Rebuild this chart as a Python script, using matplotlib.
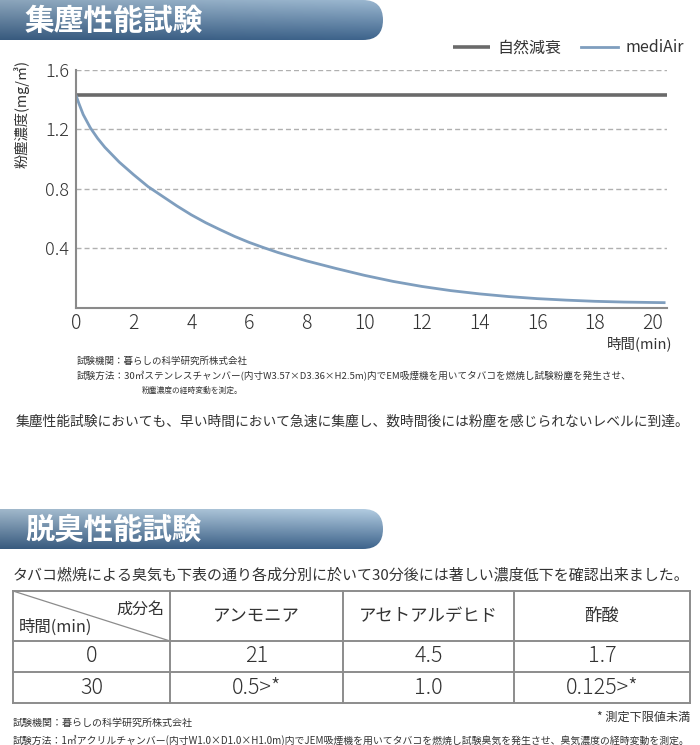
import numpy as np
import matplotlib
matplotlib.use('Agg')
import matplotlib.pyplot as plt
from matplotlib.patches import FancyBboxPatch

plt.rcParams['font.family'] = ['Noto Sans CJK JP', 'DejaVu Sans']

# ---------------- data ----------------
series_names = ['自然減衰', 'mediAir']
natural_t = [0, 20.5]
natural_v = [1.43, 1.43]
mediair_t = [0, 0.1, 0.25, 0.5, 0.75, 1, 1.5, 2, 2.5, 3, 3.5, 4, 4.5, 5, 5.5,
             6, 6.5, 7, 7.5, 8, 9, 10, 11, 12, 13, 14, 15, 16, 17, 18, 19,
             20, 20.4]
mediair_v = [1.43, 1.375, 1.30, 1.21, 1.14, 1.08, 0.98, 0.895, 0.815, 0.75,
             0.685, 0.625, 0.572, 0.525, 0.48, 0.44, 0.405, 0.372, 0.343,
             0.315, 0.265, 0.218, 0.177, 0.143, 0.115, 0.093, 0.075, 0.061,
             0.051, 0.043, 0.038, 0.035, 0.034]
x_ticks = [0, 2, 4, 6, 8, 10, 12, 14, 16, 18, 20]
y_ticks = [0.4, 0.8, 1.2, 1.6]
y_tick_labels = ['0.4', '0.8', '1.2', '1.6']

components = ['アンモニア', 'アセトアルデヒド', '酢酸']
times = ['0', '30']
odor_values = [['21', '4.5', '1.7'],
               ['0.5>*', '1.0', '0.125>*']]

# ---------------- figure ----------------
W, H = 700, 745
fig = plt.figure(figsize=(7, 7.45), dpi=100)
fig.patch.set_facecolor('white')
bg = fig.add_axes([0, 0, 1, 1])
bg.axis('off')
R = fig.canvas.get_renderer()
TXT = '#333333'


def fit(x, y, s, width, ha='left', va='center', size0=10, vertical=False, **kw):
    t = bg.text(x, y, s, fontsize=size0, ha=ha, va=va, **kw)
    bb = t.get_window_extent(R)
    w = bb.height if vertical else bb.width
    t.set_fontsize(size0 * width / w)
    return t


def fax(x0, y0, x1, y1):
    return [x0 / W, 1 - y1 / H, (x1 - x0) / W, (y1 - y0) / H]


top_c = np.array([0xb2, 0xcc, 0xe1]) / 255
bot_c = np.array([0x3e, 0x64, 0x8c]) / 255


def banner(y0, y1, x1, title, text_w, grad_top):
    f = np.linspace(0, 1, 80)[:, None, None]
    g = np.linspace(0, 1, 120)[None, :, None]
    grad = (top_c * (1 - f) + bot_c * f) * (0.9 + 0.1 * g)
    im = bg.imshow(np.clip(grad, 0, 1), extent=[0, x1, y1, grad_top],
                   aspect='auto', origin='upper', zorder=1,
                   interpolation='bilinear')
    h = y1 - y0
    clip = FancyBboxPatch((-h, y0), x1 + h, h,
                          boxstyle=f'round,pad=0,rounding_size={h / 2}',
                          transform=bg.transData, facecolor='none',
                          edgecolor='none')
    bg.add_patch(clip)
    im.set_clip_path(clip)
    fit(25, (y0 + y1) / 2 + 1, title, text_w, color='white',
        fontweight='bold', zorder=2)


banner(0, 40, 383, '集塵性能試験', 178, -10)
banner(509, 549, 383, '脱臭性能試験', 176, 509)

# ---------------- chart ----------------
ax = fig.add_axes(fax(76, 70, 667, 307.7))
ax.patch.set_alpha(0)
l1, = ax.plot(natural_t, natural_v, color='#6a6a6a', lw=2.6,
              solid_capstyle='butt', label=series_names[0])
l2, = ax.plot(mediair_t, mediair_v, color='#7f9ebe', lw=2.0,
              label=series_names[1])
ax.set_xlim(0, 20.5)
ax.set_ylim(0, 1.6)
ax.set_xticks(x_ticks)
ax.set_yticks(y_ticks)
ax.set_yticklabels(y_tick_labels)
ax.tick_params(length=0, colors=TXT)
ax.tick_params(axis='x', pad=4, labelsize=14)
ax.tick_params(axis='y', pad=5, labelsize=13)
for lab in ax.get_xticklabels() + ax.get_yticklabels():
    lab.set_fontweight('light')
ax.grid(axis='y', ls=(0, (3.6, 2.2)), color='#b0b0b0', lw=1)
ax.grid(axis='x', visible=False)
for s in ['top', 'right']:
    ax.spines[s].set_visible(False)
for s in ['left', 'bottom']:
    ax.spines[s].set_color('#8a8a8a')
    ax.spines[s].set_linewidth(1.5)

ax.legend(handles=[l1, l2], loc='center right', bbox_to_anchor=(684, 48),
          bbox_transform=bg.transData, ncol=2, frameon=False, fontsize=11.5,
          handlelength=2.3, handletextpad=0.5, columnspacing=1.2,
          borderaxespad=0, borderpad=0, labelcolor=TXT)

fit(22, 114, '粉塵濃度(mg/㎥)', 108, ha='center', rotation=90,
    vertical=True, color=TXT)
fit(672, 344, '時間(min)', 65, ha='right', color=TXT)

fit(77, 361, '試験機関：暮らしの科学研究所株式会社', 170, color=TXT)
fit(77, 376, '試験方法：30㎥ステンレスチャンバー(内寸W3.57×D3.36×H2.5m)内でEM吸煙機を用いてタバコを燃焼し試験粉塵を発生させ、',
    552, color=TXT)
fit(142, 391, '粉塵濃度の経時変動を測定。', 101, color=TXT)

fit(16, 422, '集塵性能試験においても、早い時間において急速に集塵し、数時間後には粉塵を感じられないレベルに到達。',
    674, color=TXT)

# ---------------- table ----------------
fit(13, 575, 'タバコ燃焼による臭気も下表の通り各成分別に於いて30分後には著しい濃度低下を確認出来ました。',
    675, color=TXT)

col_edges = [13, 170, 343, 514, 690]
row_edges = [591, 641, 672, 703]
LC = '#8c8c8c'
for y in row_edges:
    bg.plot([col_edges[0], col_edges[-1]], [y, y], color=LC, lw=1.4,
            solid_capstyle='projecting')
for x in col_edges:
    bg.plot([x, x], [row_edges[0], row_edges[-1]], color=LC, lw=1.4,
            solid_capstyle='projecting')
bg.plot([col_edges[0], col_edges[1]], [row_edges[0], row_edges[1]],
        color=LC, lw=0.9)

fit(164, 609, '成分名', 48, ha='right', color=TXT)
fit(19, 627, '時間(min)', 73, color=TXT)

head_y = (row_edges[0] + row_edges[1]) / 2
for i, name in enumerate(components):
    cx = (col_edges[i + 1] + col_edges[i + 2]) / 2
    bg.text(cx, head_y, name, ha='center', va='center', fontsize=12.5,
            color=TXT)

for r, tlabel in enumerate(times):
    cy = (row_edges[r + 1] + row_edges[r + 2]) / 2
    cx0 = (col_edges[0] + col_edges[1]) / 2
    bg.text(cx0, cy, tlabel, ha='center', va='center', fontsize=15.5,
            color=TXT, fontweight='light')
    for c, val in enumerate(odor_values[r]):
        cx = (col_edges[c + 1] + col_edges[c + 2]) / 2
        bg.text(cx, cy, val, ha='center', va='center', fontsize=15.5,
                color=TXT, fontweight='light')

fit(690, 717, '* 測定下限値未満', 93, ha='right', color=TXT)
fit(13, 723, '試験機関：暮らしの科学研究所株式会社', 180, color=TXT)
fit(13, 740, '試験方法：1㎥アクリルチャンバー(内寸W1.0×D1.0×H1.0m)内でJEM吸煙機を用いてタバコを燃焼し試験臭気を発生させ、臭気濃度の経時変動を測定。',
    677, color=TXT)

bg.set_xlim(0, W)
bg.set_ylim(H, 0)

fig.savefig('out.png', dpi=100, facecolor='white')
